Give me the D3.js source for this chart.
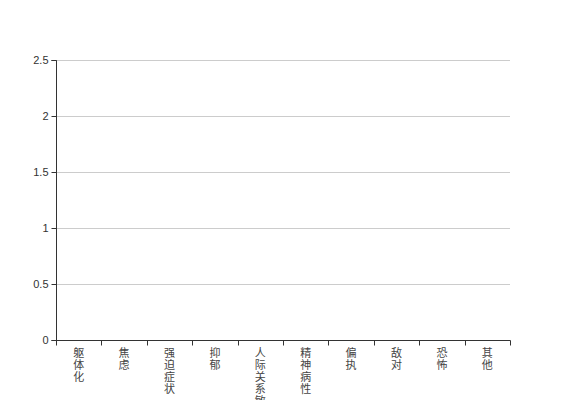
<!DOCTYPE html>
<html><head><meta charset="utf-8">
<script src="https://cdn.jsdelivr.net/npm/d3@7"></script>
<style>body{margin:0;background:#fff;}svg{display:block;}</style>
</head><body>
<script>
const categories = ["躯体化","焦虑","强迫症状","抑郁","人际关系敏感","精神病性","偏执","敌对","恐怖","其他"];
const values = [0,0,0,0,0,0,0,0,0,0];
const yTicks = [0,0.5,1,1.5,2,2.5];

(function(){
const W=567,H=400, mLeft=56, mRight=510, mTop=60, mBottom=340;
const svg=d3.select("body").append("svg").attr("width",W).attr("height",H);
const x=d3.scaleBand().domain(categories).range([mLeft,mRight]);
const y=d3.scaleLinear().domain([0,2.5]).range([mBottom,mTop]);

// grid
svg.append("g").selectAll("line").data(yTicks.filter(d=>d>0)).join("line")
  .attr("x1",mLeft).attr("x2",mRight).attr("y1",d=>Math.round(y(d))+0.5).attr("y2",d=>Math.round(y(d))+0.5)
  .attr("stroke","#ccc").attr("stroke-width",1);

// bars
svg.append("g").selectAll("rect").data(values).join("rect")
  .attr("x",(d,i)=>x(categories[i])+x.bandwidth()*0.2).attr("width",x.bandwidth()*0.6)
  .attr("y",d=>y(d)).attr("height",d=>mBottom-y(d)).attr("fill","#5470c6");

// y axis
const ya=svg.append("g").attr("transform",`translate(${mLeft+0.5},0)`)
  .call(d3.axisLeft(y).tickValues(yTicks).tickSize(5).tickPadding(3).tickFormat(d3.format("")));
ya.select(".domain").attr("stroke","#333").attr("d",`M-5,${mTop+0.5}H0V${mBottom+0.5}H-5`);
ya.selectAll(".tick line").attr("stroke","#333");
ya.selectAll(".tick text").attr("fill","#333").style("font-family","Liberation Sans, Arial, sans-serif").style("font-size","11px");

// x axis
const xa=svg.append("g").attr("transform",`translate(0,${mBottom+0.5})`);
xa.append("line").attr("x1",mLeft).attr("x2",mRight+0.5).attr("stroke","#333");
const bounds=categories.map(c=>x(c)).concat([mRight]);
xa.selectAll("line.t").data(bounds).join("line").attr("class","t")
  .attr("x1",d=>Math.round(d)+0.5).attr("x2",d=>Math.round(d)+0.5).attr("y1",0).attr("y2",5).attr("stroke","#333");
const lbl=xa.selectAll("text").data(categories).join("text")
  .attr("fill","#444").attr("text-anchor","middle")
  .style("font-family","Noto Sans CJK SC, sans-serif").style("font-size","11px");
lbl.each(function(c){
  const t=d3.select(this);
  Array.from(c).forEach((ch,i)=>{
    t.append("tspan").attr("x",x(c)+x.bandwidth()/2).attr("y",16.5+i*12).text(ch);
  });
});
})();
</script>
</body></html>
